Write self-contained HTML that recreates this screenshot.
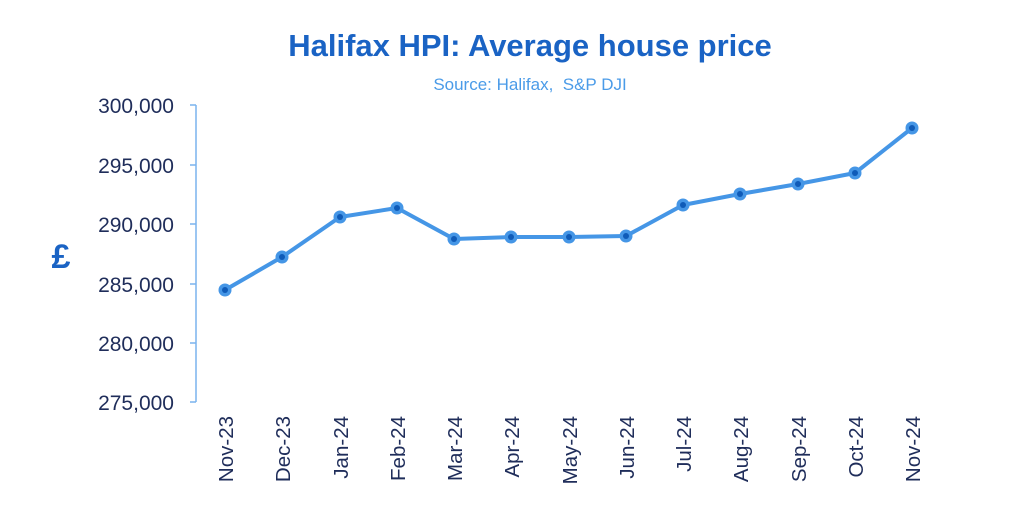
<!DOCTYPE html>
<html><head><meta charset="utf-8"><style>
body{margin:0;background:#fff;}
svg{display:block;font-family:"Liberation Sans",sans-serif;}
</style></head><body>
<svg width="1024" height="520" viewBox="0 0 1024 520">
<text x="530" y="56" text-anchor="middle" font-size="31" font-weight="bold" fill="#1a63c4">Halifax HPI: Average house price</text>
<text x="530" y="90" text-anchor="middle" font-size="17" fill="#4a9be8" xml:space="preserve">Source: Halifax,  S&amp;P DJI</text>
<text x="61" y="268" text-anchor="middle" font-size="34" font-weight="bold" fill="#1a63c4">£</text>
<g stroke="#7ab4ee" stroke-width="1.5" fill="none">
<path d="M196 105V402"/>
<path d="M190 105H196M190 165H196M190 224H196M190 284H196M190 343H196M190 402H196"/>
</g>
<g font-size="21" fill="#1f2d5a" text-anchor="end">
<text x="174" y="113">300,000</text>
<text x="174" y="173">295,000</text>
<text x="174" y="232">290,000</text>
<text x="174" y="292">285,000</text>
<text x="174" y="351">280,000</text>
<text x="174" y="410">275,000</text>
</g>
<g font-size="20.5" fill="#1f2d5a" text-anchor="end">
<text transform="translate(233,416) rotate(-90)">Nov-23</text>
<text transform="translate(290,416) rotate(-90)">Dec-23</text>
<text transform="translate(348,416) rotate(-90)">Jan-24</text>
<text transform="translate(405,416) rotate(-90)">Feb-24</text>
<text transform="translate(462,416) rotate(-90)">Mar-24</text>
<text transform="translate(519,416) rotate(-90)">Apr-24</text>
<text transform="translate(577,416) rotate(-90)">May-24</text>
<text transform="translate(634,416) rotate(-90)">Jun-24</text>
<text transform="translate(691,416) rotate(-90)">Jul-24</text>
<text transform="translate(748,416) rotate(-90)">Aug-24</text>
<text transform="translate(806,416) rotate(-90)">Sep-24</text>
<text transform="translate(863,416) rotate(-90)">Oct-24</text>
<text transform="translate(920,416) rotate(-90)">Nov-24</text>
</g>
<polyline fill="none" stroke="#4596e6" stroke-width="4" stroke-linejoin="round" points="225,290 282,257 340,217 397,208 454,239 511,237 569,237 626,236 683,205 740,194 798,184 855,173 912,128"/>
<g fill="#4596e6">
<circle cx="225" cy="290" r="6.5"/><circle cx="282" cy="257" r="6.5"/><circle cx="340" cy="217" r="6.5"/><circle cx="397" cy="208" r="6.5"/><circle cx="454" cy="239" r="6.5"/><circle cx="511" cy="237" r="6.5"/><circle cx="569" cy="237" r="6.5"/><circle cx="626" cy="236" r="6.5"/><circle cx="683" cy="205" r="6.5"/><circle cx="740" cy="194" r="6.5"/><circle cx="798" cy="184" r="6.5"/><circle cx="855" cy="173" r="6.5"/><circle cx="912" cy="128" r="6.5"/>
</g>
<g fill="#0f5bb8">
<circle cx="225" cy="290" r="3"/><circle cx="282" cy="257" r="3"/><circle cx="340" cy="217" r="3"/><circle cx="397" cy="208" r="3"/><circle cx="454" cy="239" r="3"/><circle cx="511" cy="237" r="3"/><circle cx="569" cy="237" r="3"/><circle cx="626" cy="236" r="3"/><circle cx="683" cy="205" r="3"/><circle cx="740" cy="194" r="3"/><circle cx="798" cy="184" r="3"/><circle cx="855" cy="173" r="3"/><circle cx="912" cy="128" r="3"/>
</g>
</svg>
</body></html>
